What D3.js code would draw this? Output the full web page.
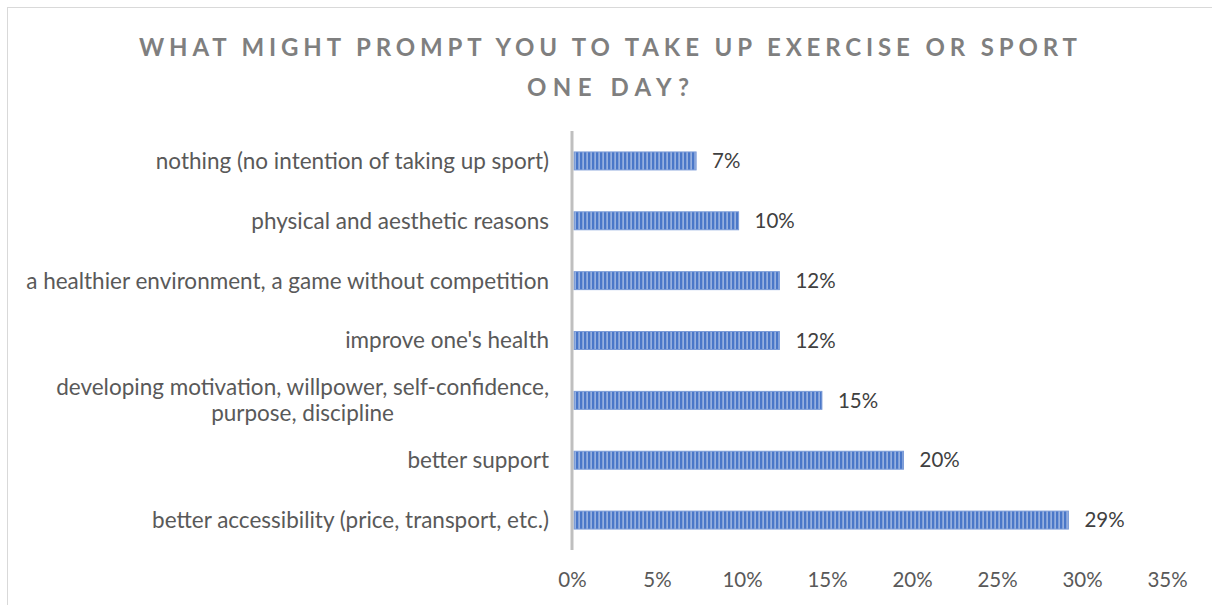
<html>
<head>
<title>Exercise prompts</title>
<style type="text/css">
* { margin: 0; padding: 0; }
body { background: #fff; }
text { font-family: Lato, "Open Sans", sans-serif; }
</style>
<script type="text/javascript" src="https://cdn.jsdelivr.net/npm/d3@7/dist/d3.min.js"></script>
</head>
<body>
<div id="chart"></div>
<script type="text/javascript">
// categories, top to bottom
var categories = [
  "nothing (no intention of taking up sport)",
  "physical and aesthetic reasons",
  "a healthier environment, a game without competition",
  "improve one's health",
  "developing motivation, willpower, self-confidence,|purpose, discipline",
  "better support",
  "better accessibility (price, transport, etc.)"
];
// share of answers
var shares = [0.073, 0.098, 0.122, 0.122, 0.147, 0.195, 0.292];
var tickValues = [0, 0.05, 0.10, 0.15, 0.20, 0.25, 0.30, 0.35];
var titleLines = ["WHAT MIGHT PROMPT YOU TO TAKE UP EXERCISE OR SPORT", "ONE DAY?"];

var W = 1212, H = 605;
var svg = d3.select("#chart").append("svg")
  .attr("width", W).attr("height", H);

// chart frame (cut by window on right & bottom)
svg.append("rect")
  .attr("x", 7.5).attr("y", 7.5)
  .attr("width", W + 20).attr("height", H + 20)
  .attr("fill", "none").attr("stroke", "#d9d9d9");

// stripe pattern for the bars
var pat = svg.append("defs").append("pattern")
  .attr("id", "stripes").attr("patternUnits", "userSpaceOnUse")
  .attr("width", 4).attr("height", 10);
pat.append("rect").attr("width", 4).attr("height", 10).attr("fill", "#4a77c8");
pat.append("rect").attr("x", 2.5).attr("width", 1.2).attr("height", 10).attr("fill", "#b7c9ea");

var x = d3.scaleLinear().domain([0, 0.35]).range([572, 1167]);
var y = d3.scaleBand().domain(categories).range([131, 550])
  .paddingInner(0.7).paddingOuter(0.35);

// title
svg.selectAll("text.title").data(titleLines).enter().append("text")
  .attr("class", "title")
  .attr("x", 608)
  .attr("y", function(d, i) { return 56 + i * 40; })
  .attr("text-anchor", "middle")
  .attr("fill", "#7f7f7f")
  .attr("font-size", 24)
  .attr("font-weight", "bold")
  .attr("textLength", function(d, i) { return i == 0 ? 938 : 162; })
  .attr("lengthAdjust", "spacing")
  .text(function(d) { return d; });

// bars
svg.selectAll("rect.bar").data(shares).enter().append("rect")
  .attr("class", "bar")
  .attr("x", x(0) + 2)
  .attr("y", function(d, i) { return y(categories[i]); })
  .attr("width", function(d) { return x(d) - x(0) - 2; })
  .attr("height", y.bandwidth())
  .attr("fill", "url(#stripes)")
  .attr("stroke", "#7c9cd8")
  .attr("stroke-width", 1);

// value labels
svg.selectAll("text.val").data(shares).enter().append("text")
  .attr("class", "val")
  .attr("x", function(d) { return x(d) + 16; })
  .attr("y", function(d, i) { return y(categories[i]) + y.bandwidth() / 2; })
  .attr("dy", "0.35em")
  .attr("fill", "#404040")
  .attr("font-size", 20.5)
  .text(function(d) { return Math.round(d * 100) + "%"; });

// vertical axis line
svg.append("line")
  .attr("x1", x(0)).attr("x2", x(0))
  .attr("y1", 131).attr("y2", 550)
  .attr("stroke", "#bfbfbf").attr("stroke-width", 3);

// category labels, right aligned block, centered lines
categories.forEach(function(cat) {
  var lines = cat.split("|");
  var cy = y(cat) + y.bandwidth() / 2;
  var g = svg.append("g");
  var texts = lines.map(function(line, i) {
    return g.append("text")
      .attr("y", cy + (i - (lines.length - 1) / 2) * 26)
      .attr("dy", "0.35em")
      .attr("fill", "#595959")
      .attr("font-size", 22.5)
      .attr("text-anchor", "middle")
      .text(line);
  });
  var maxW = d3.max(texts, function(t) { return t.node().getComputedTextLength(); });
  texts.forEach(function(t) { t.attr("x", 549 - maxW / 2); });
});

// x axis tick labels
var xAxis = d3.axisBottom(x).tickValues(tickValues)
  .tickFormat(d3.format(".0%")).tickSize(0).tickPadding(0);
var ax = svg.append("g").attr("transform", "translate(0,572)").call(xAxis);
ax.select(".domain").remove();
ax.selectAll("text")
  .attr("font-size", 20.5)
  .attr("fill", "#595959")
  .attr("dy", "0.71em")
  .style("font-family", "Lato, 'Open Sans', sans-serif");
</script>
</body>
</html>
